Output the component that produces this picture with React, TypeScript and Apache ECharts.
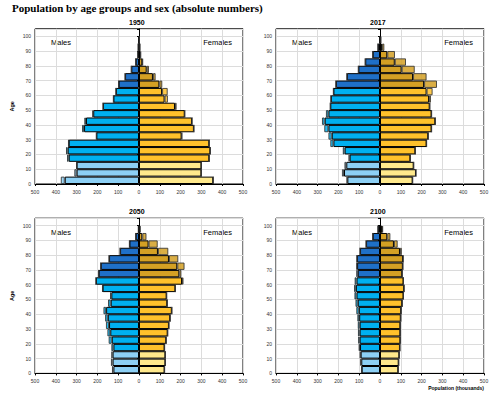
import React, { useEffect, useRef } from 'react';
import * as echarts from 'echarts';

const ageGroups = ['0-4', '5-9', '10-14', '15-19', '20-24', '25-29', '30-34', '35-39', '40-44', '45-49',
  '50-54', '55-59', '60-64', '65-69', '70-74', '75-79', '80-84', '85-89', '90-94', '95-99', '100+'];
const years = ['1950', '2017', '2050', '2100'];

const males1950 = [376, 311, 300, 346, 351, 340, 205, 274, 263, 224, 173, 123, 111, 98, 67, 37, 16, 6, 4, 2];
const females1950 = [357, 300, 301, 338, 343, 338, 207, 264, 255, 220, 181, 139, 138, 112, 80, 48, 19, 10, 5, 2];
const males2017 = [160, 183, 171, 151, 179, 239, 248, 268, 279, 260, 239, 236, 224, 212, 159, 104, 71, 35, 10, 2];
const females2017 = [157, 173, 162, 146, 170, 224, 232, 248, 266, 248, 240, 245, 253, 274, 224, 167, 125, 72, 21, 6];
const males2050 = [130, 135, 133, 133, 146, 152, 159, 163, 171, 149, 139, 176, 207, 194, 184, 144, 91, 46, 16, 3];
const females2050 = [123, 127, 127, 123, 131, 138, 144, 150, 158, 136, 133, 175, 214, 204, 219, 189, 141, 90, 36, 8];
const males2100 = [90, 95, 97, 103, 105, 106, 107, 109, 114, 118, 123, 125, 122, 114, 113, 111, 96, 67, 35, 10];
const females2100 = [88, 90, 93, 96, 98, 98, 98, 100, 102, 107, 113, 116, 113, 107, 110, 112, 105, 85, 50, 15];

const malesByYear = [males1950, males2017, males2050, males2100];
const femalesByYear = [females1950, females2017, females2050, females2100];

const maleColors = ['#8DD0F5', '#00B0F0', '#1F70C8'];
const femaleColors = ['#FFE98C', '#FFC12B', '#D4A024'];

const FONT = 'Arial, "Liberation Sans", sans-serif';

function groupIndex(i: number) {
  return i < 3 ? 0 : i < 13 ? 1 : 2;
}

export default function App() {
  const ref = useRef<HTMLDivElement>(null);
  useEffect(() => {
    const chart = echarts.init(ref.current!, null, { renderer: 'svg' });
    const W = 208;
    const H = 155.2;
    const panels = [
      { left: 35, top: 28.8 },
      { left: 276, top: 28.8 },
      { left: 35, top: 218.2 },
      { left: 276, top: 218.2 },
    ];
    const grid: any[] = [];
    const xAxis: any[] = [];
    const yAxis: any[] = [];
    const series: any[] = [];
    const graphic: any[] = [];

    panels.forEach((p, k) => {
      grid.push({ left: p.left, top: p.top, width: W, height: H, show: true, borderColor: '#000', borderWidth: 1, backgroundColor: 'transparent' });
      xAxis.push({
        type: 'value', gridIndex: k, min: -500, max: 500, interval: 100,
        axisLine: { show: true, lineStyle: { color: '#000', width: 1 } },
        axisTick: { show: true, length: 2, lineStyle: { color: '#000' } },
        splitLine: { show: true, lineStyle: { color: '#dcdcdc', width: 1 } },
        axisLabel: { fontSize: 5, color: '#333', fontFamily: FONT, margin: 5, formatter: (v: number) => String(Math.abs(v)) },
      });
      yAxis.push({
        type: 'value', gridIndex: k, min: 0, max: 105, interval: 10, position: 'left',
        name: k % 2 === 0 ? 'Age' : '', nameLocation: 'middle', nameRotate: 90, nameGap: 20,
        nameTextStyle: { fontSize: 5.5, fontWeight: 'bold', color: '#000', fontFamily: FONT },
        axisLine: { show: true, lineStyle: { color: '#000', width: 1 } },
        axisTick: { show: true, length: 2, lineStyle: { color: '#000' } },
        splitLine: { show: true, lineStyle: { color: '#dcdcdc', width: 1 } },
        axisLabel: { fontSize: 5, color: '#333', fontFamily: FONT, margin: 4, formatter: (v: number) => (v > 100 ? '' : String(v)) },
      });
      yAxis.push({
        type: 'category', gridIndex: k, data: ageGroups, show: false, boundaryGap: true,
      });
      const males = malesByYear[k];
      const females = femalesByYear[k];
      const common = {
        type: 'bar', xAxisIndex: k, yAxisIndex: 2 * k + 1, stack: 'pyr' + k,
        barWidth: '100%', barCategoryGap: 0, silent: true,
      };
      series.push({
        ...common, name: 'mBase' + k,
        data: males.map((m, i) => ({
          value: -Math.min(m, females[i]),
          itemStyle: { color: maleColors[groupIndex(i)], borderColor: '#000', borderWidth: 1 },
        })),
      });
      series.push({
        ...common, name: 'mExcess' + k,
        data: males.map((m, i) => ({
          value: -Math.max(0, m - females[i]),
          itemStyle: { color: maleColors[groupIndex(i)], opacity: 0.85, borderColor: '#333', borderWidth: 1 },
        })),
      });
      series.push({
        ...common, name: 'fBase' + k,
        data: females.map((f, i) => ({
          value: Math.min(f, males[i]),
          itemStyle: { color: femaleColors[groupIndex(i)], borderColor: '#000', borderWidth: 1 },
        })),
      });
      series.push({
        ...common, name: 'fExcess' + k,
        data: females.map((f, i) => ({
          value: Math.max(0, f - males[i]),
          itemStyle: { color: femaleColors[groupIndex(i)], opacity: 0.85, borderColor: '#333', borderWidth: 1 },
        })),
      });

      graphic.push({
        type: 'text', left: p.left + W / 2 - 10, top: p.top - 10,
        style: { text: years[k], font: 'bold 7px ' + FONT, fill: '#000', textAlign: 'center', x: 10, width: 20 },
      });
      graphic.push({
        type: 'text', x: p.left + 16, y: p.top + 10,
        style: { text: 'Males', font: '7.5px ' + FONT, fill: '#000' },
      });
      graphic.push({
        type: 'text', x: p.left + W - 11, y: p.top + 10,
        style: { text: 'Females', font: '7.5px ' + FONT, fill: '#000', textAlign: 'right' },
      });
    });

    graphic.push({
      type: 'text', x: 12, y: 2,
      style: { text: 'Population by age groups and sex (absolute numbers)', font: 'bold 11px "Liberation Serif", "Times New Roman", serif', fill: '#000' },
    });
    graphic.push({
      type: 'text', x: 484, y: 385,
      style: { text: 'Population (thousands)', font: 'bold 5px ' + FONT, fill: '#000', textAlign: 'right' },
    });

    chart.setOption({
      animation: false,
      backgroundColor: '#fff',
      grid, xAxis, yAxis, series, graphic,
    });
    return () => chart.dispose();
  }, []);
  return <div ref={ref} style={{ position: 'absolute', left: 0, top: 0, width: 500, height: 396 }} />;
}
